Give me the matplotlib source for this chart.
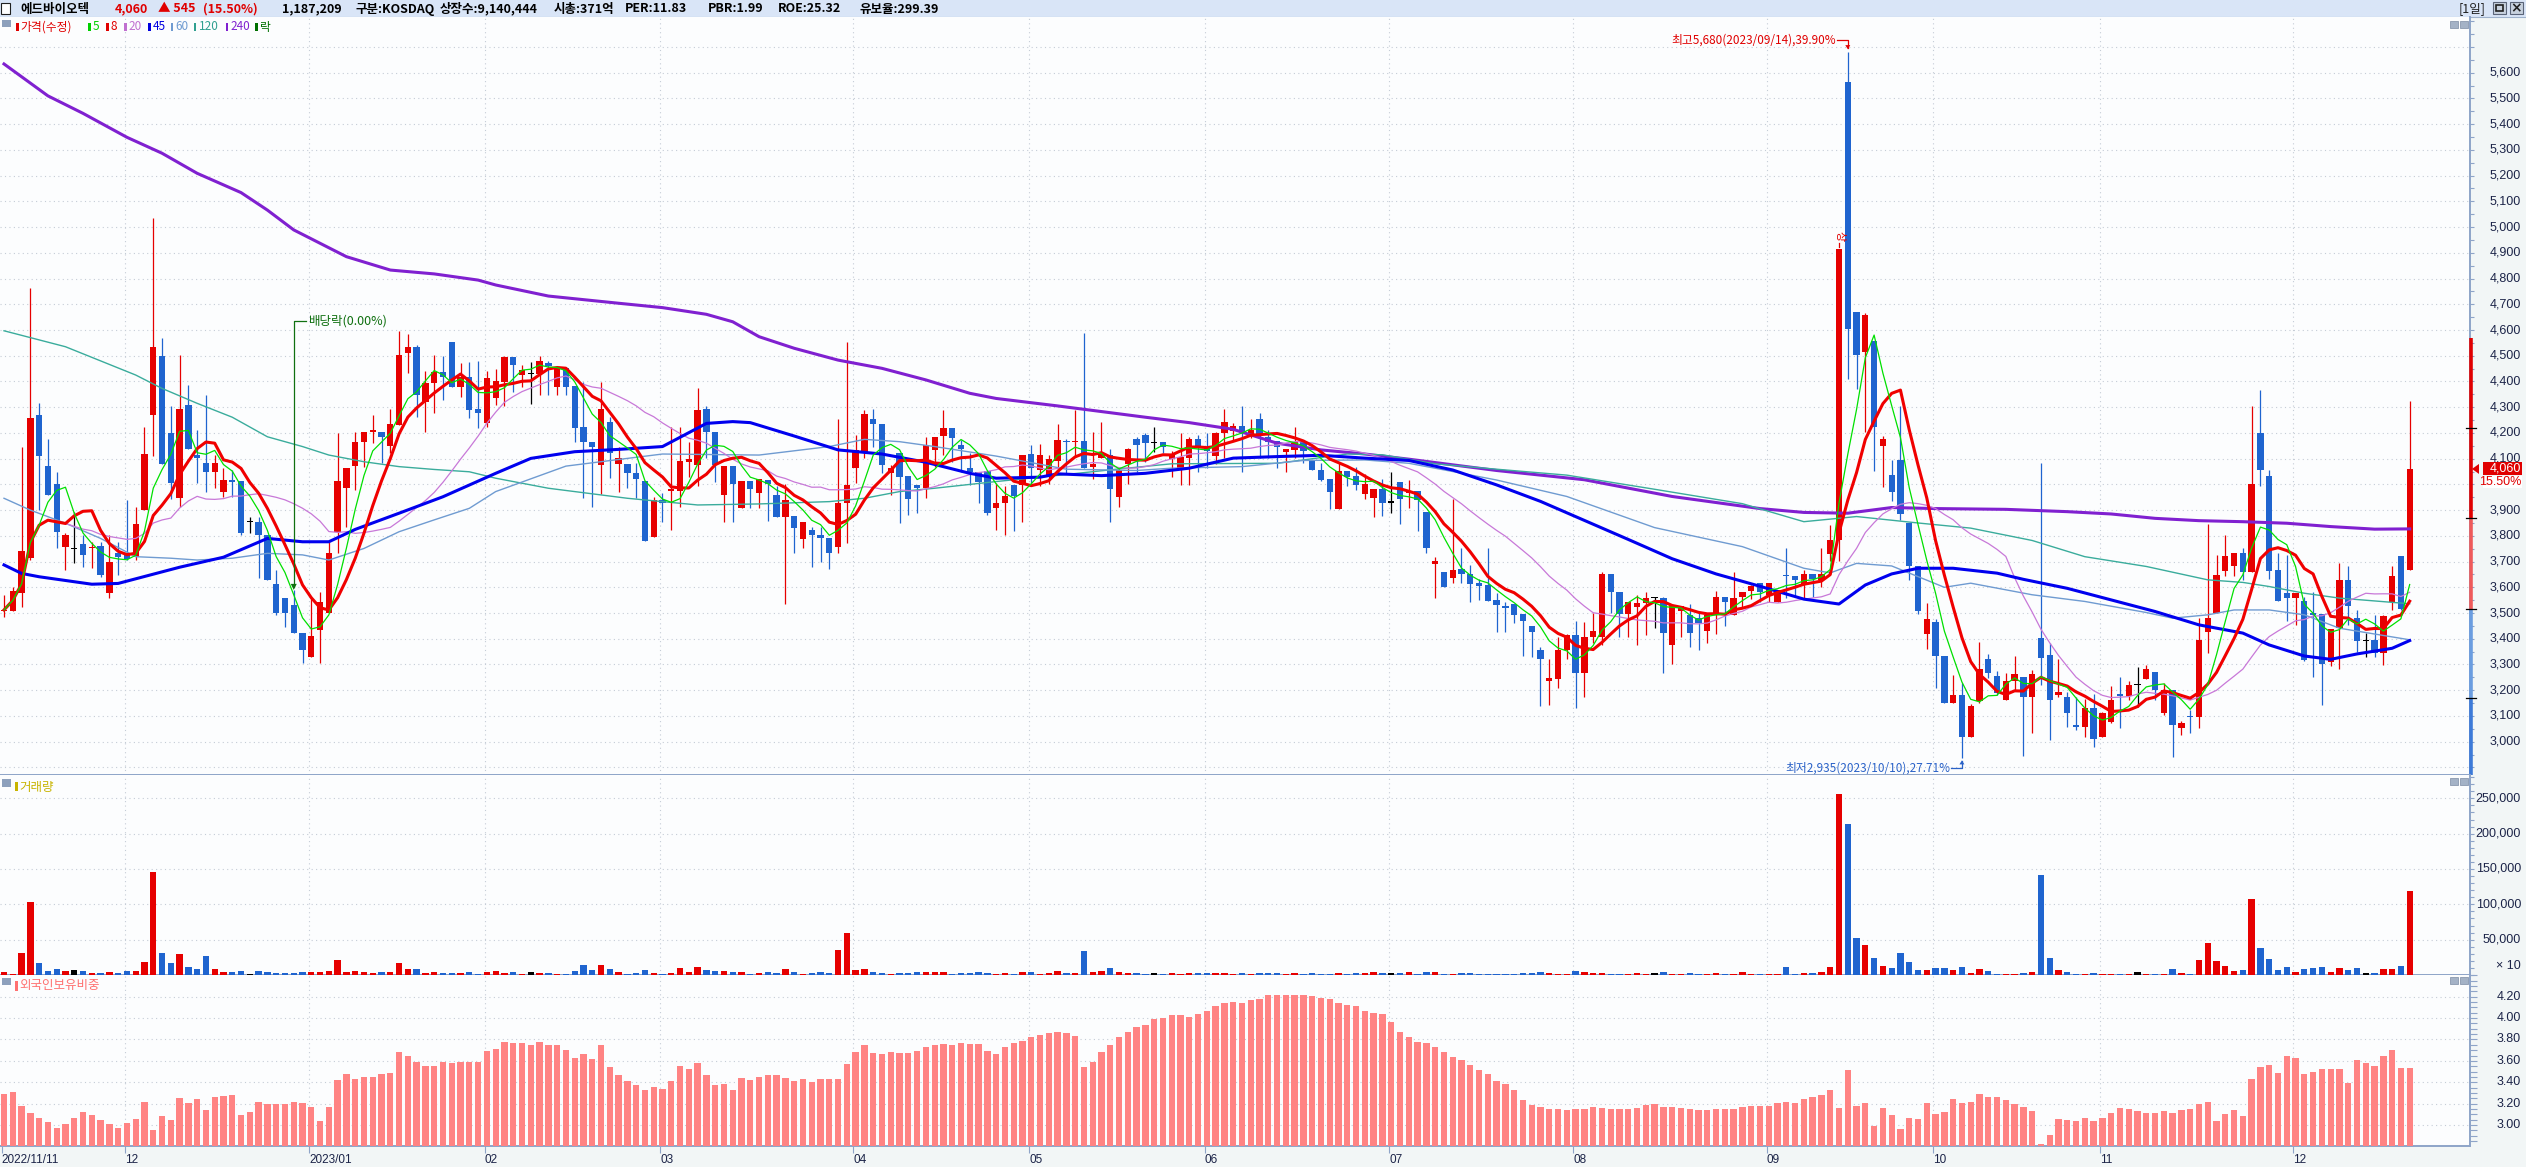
"""
Daily candle chart (에드바이오텍) with moving averages, volume and foreign ownership panels.
"""

import numpy as np
import pandas as pd
import matplotlib
matplotlib.use("Agg")
import matplotlib.pyplot as plt
from matplotlib.patches import Rectangle, Polygon
from matplotlib.lines import Line2D
from matplotlib.transforms import blended_transform_factory

plt.rcParams["font.family"] = ["Noto Sans CJK KR", "DejaVu Sans"]

# ---------------- data ----------------
opens = [
    3508, 3508, 3577, 3713, 4270, 4071, 4002, 3755, 3751, 3768,
    3751, 3761, 3577, 3735, 3732, 3719, 3900, 4270, 4499, 4198,
    3948, 4309, 4114, 4082, 4049, 3972, 4017, 4013, 3855, 3855,
    3803, 3613, 3557, 3531, 3421, 3330, 3434, 3501, 3816, 3985,
    4071, 4163, 4202, 4202, 4150, 4231, 4512, 4533, 4321, 4393,
    4436, 4555, 4380, 4419, 4292, 4240, 4337, 4399, 4496, 4425,
    4432, 4429, 4470, 4377, 4451, 4382, 4222, 4166, 4075, 4244,
    4079, 4079, 4046, 4013, 3797, 3939, 3975, 3976, 4088, 4075,
    4292, 4202, 3959, 4071, 3910, 4013, 3965, 4017, 3959, 3875,
    3877, 3786, 3823, 3802, 3790, 3755, 3929, 4062, 4121, 4253,
    4233, 4043, 4123, 4033, 3998, 3985, 4134, 4188, 4218, 4153,
    4062, 4049, 4052, 3910, 3927, 3998, 3998, 4117, 4054, 4030,
    4089, 4170, 4166, 4169, 4067, 4102, 4113, 3950, 4080, 4177,
    4192, 4164, 4164, 4098, 4063, 4104, 4175, 4143, 4112, 4199,
    4209, 4227, 4196, 4254, 4186, 4169, 4124, 4134, 4169, 4091,
    4056, 4020, 3903, 4052, 4033, 3962, 3949, 3981, 3931, 4011,
    3966, 3976, 3894, 3690, 3661, 3635, 3670, 3651, 3616, 3609,
    3551, 3529, 3535, 3498, 3451, 3355, 3234, 3242, 3355, 3414,
    3266, 3405, 3405, 3650, 3581, 3498, 3522, 3540, 3559, 3557,
    3377, 3507, 3492, 3479, 3429, 3494, 3563, 3494, 3563, 3585,
    3615, 3572, 3544, 3646, 3643, 3609, 3652, 3628, 3730, 3782,
    5563, 4671, 4516, 4556, 4151, 4036, 4096, 3851, 3684, 3420,
    3464, 3334, 3149, 3182, 3019, 3158, 3321, 3257, 3162, 3234,
    3253, 3173, 3402, 3337, 3182, 3175, 3065, 3056, 3130, 3017,
    3078, 3184, 3179, 3221, 3243, 3270, 3111, 3201, 3052, 3100,
    3095, 3428, 3502, 3664, 3684, 3732, 3661, 4199, 4033, 3668,
    3577, 3560, 3545, 3502, 3497, 3311, 3441, 3629, 3480, 3393,
    3396, 3346, 3544, 3722, 3668,
]
highs = [
    3570, 3603, 4147, 4762, 4318, 4175, 4049, 3810, 3894, 3803,
    3777, 3777, 3803, 3777, 3939, 3913, 4222, 5034, 4568, 4305,
    4503, 4386, 4211, 4347, 4114, 4062, 4056, 4013, 3875, 3875,
    3803, 3667, 3557, 3590, 3421, 3557, 3583, 3777, 4198, 4062,
    4205, 4202, 4270, 4202, 4292, 4597, 4584, 4542, 4442, 4503,
    4500, 4555, 4470, 4477, 4481, 4442, 4447, 4499, 4496, 4464,
    4477, 4499, 4480, 4455, 4451, 4382, 4399, 4166, 4399, 4261,
    4147, 4079, 4084, 4013, 3952, 3965, 4222, 4222, 4163, 4373,
    4305, 4202, 4071, 4071, 4013, 4013, 4020, 4017, 3994, 4000,
    3877, 3855, 3836, 3836, 3790, 4253, 4552, 4192, 4289, 4292,
    4233, 4075, 4123, 4033, 3998, 4183, 4183, 4289, 4218, 4173,
    4121, 4049, 4052, 4004, 3992, 3998, 4115, 4153, 4157, 4115,
    4235, 4175, 4290, 4590, 4203, 4242, 4138, 4063, 4141, 4186,
    4199, 4222, 4164, 4131, 4199, 4186, 4192, 4199, 4205, 4293,
    4238, 4305, 4253, 4277, 4212, 4169, 4137, 4222, 4169, 4091,
    4082, 4020, 4082, 4052, 4069, 4039, 3981, 4020, 4050, 4011,
    4017, 3976, 3894, 3717, 3661, 3942, 3752, 3687, 3631, 3752,
    3577, 3544, 3535, 3498, 3451, 3368, 3321, 3405, 3420, 3470,
    3464, 3501, 3659, 3650, 3581, 3544, 3572, 3581, 3563, 3563,
    3535, 3526, 3535, 3501, 3494, 3587, 3563, 3659, 3581, 3609,
    3615, 3618, 3591, 3752, 3643, 3668, 3652, 3752, 3841, 4915,
    5680, 4671, 4668, 4556, 4188, 4096, 4306, 3851, 3684, 3539,
    3476, 3334, 3260, 3228, 3145, 3386, 3340, 3275, 3266, 3333,
    3253, 3279, 4082, 3385, 3320, 3195, 3175, 3165, 3184, 3117,
    3217, 3253, 3237, 3289, 3298, 3270, 3227, 3201, 3082, 3123,
    3480, 3846, 3726, 3804, 3732, 3752, 4305, 4367, 4054, 3735,
    3726, 3577, 3564, 3580, 3497, 3437, 3696, 3683, 3512, 3424,
    3493, 3493, 3681, 3722, 4326,
]
lows = [
    3486, 3508, 3525, 3706, 3900, 3959, 3751, 3667, 3693, 3680,
    3674, 3641, 3557, 3648, 3706, 3706, 3900, 4110, 4079, 3942,
    3913, 4136, 4007, 3972, 3985, 3950, 3952, 3803, 3810, 3635,
    3629, 3492, 3447, 3421, 3305, 3330, 3305, 3501, 3732, 3836,
    3978, 4069, 4160, 4084, 4121, 4231, 4432, 4261, 4205, 4276,
    4328, 4380, 4338, 4257, 4218, 4224, 4309, 4305, 4358, 4380,
    4312, 4347, 4347, 4347, 4347, 4166, 3946, 3913, 3961, 4026,
    3972, 3985, 3946, 3781, 3797, 3855, 3823, 3913, 4030, 3994,
    4101, 4011, 3855, 3852, 3910, 3907, 3907, 3859, 3875, 3535,
    3732, 3751, 3678, 3700, 3670, 3735, 3771, 4007, 4101, 4147,
    4043, 3959, 3851, 3881, 3888, 3946, 4069, 4114, 4088, 4049,
    3998, 3926, 3881, 3823, 3804, 3817, 3852, 4004, 3992, 4002,
    4050, 4043, 4108, 4063, 4020, 4102, 3855, 3911, 4001, 4050,
    4086, 4124, 4121, 4030, 3998, 3998, 4050, 4063, 4080, 4102,
    4173, 4050, 4179, 4102, 4102, 4063, 4050, 4102, 4082, 4054,
    4015, 3905, 3903, 3992, 3979, 3944, 3872, 3879, 3890, 3845,
    3910, 3817, 3732, 3558, 3600, 3618, 3618, 3541, 3549, 3548,
    3428, 3427, 3461, 3334, 3331, 3139, 3141, 3210, 3321, 3130,
    3173, 3383, 3377, 3501, 3405, 3405, 3377, 3414, 3442, 3266,
    3303, 3405, 3368, 3355, 3383, 3418, 3451, 3494, 3525, 3553,
    3544, 3544, 3544, 3557, 3563, 3553, 3563, 3600, 3702, 3702,
    4408, 4371, 4204, 4051, 3990, 3934, 3860, 3628, 3498, 3359,
    3210, 3149, 3149, 2935, 3019, 3149, 3247, 3182, 3162, 3199,
    2945, 3035, 3221, 3007, 3175, 3056, 3046, 3020, 2981, 3017,
    3072, 3052, 3162, 3136, 3243, 3162, 3104, 2940, 3026, 3035,
    3052, 3346, 3502, 3644, 3644, 3629, 3661, 3992, 3631, 3548,
    3469, 3454, 3315, 3250, 3143, 3295, 3282, 3454, 3350, 3331,
    3331, 3298, 3512, 3512, 3668,
]
closes = [
    3512, 3586, 3741, 4257, 4110, 3959, 3816, 3803, 3751, 3726,
    3758, 3648, 3700, 3719, 3710, 3845, 4118, 4535, 4079, 4007,
    4292, 4136, 4101, 4049, 4082, 4017, 4009, 3810, 3855, 3803,
    3629, 3499, 3502, 3421, 3356, 3411, 3544, 3732, 4013, 4062,
    4163, 4202, 4211, 4183, 4235, 4503, 4533, 4347, 4393, 4436,
    4419, 4380, 4419, 4289, 4279, 4412, 4402, 4496, 4464, 4445,
    4432, 4480, 4460, 4455, 4380, 4218, 4166, 4147, 4292, 4123,
    4101, 4046, 4020, 3781, 3939, 3929, 3983, 4091, 4099, 4289,
    4205, 4075, 4071, 4000, 4013, 3981, 4020, 4000, 3875, 3939,
    3832, 3855, 3802, 3790, 3732, 3929, 3998, 4134, 4274, 4233,
    4075, 4062, 4030, 3942, 3985, 4153, 4183, 4218, 4182, 4136,
    4049, 4011, 3888, 3926, 3953, 3955, 4115, 4063, 4115, 4098,
    4173, 4166, 4170, 4063, 4080, 4121, 3981, 4056, 4137, 4153,
    4162, 4164, 4147, 4115, 4106, 4175, 4143, 4131, 4199, 4242,
    4227, 4199, 4212, 4192, 4166, 4147, 4137, 4166, 4131, 4054,
    4017, 3972, 4052, 4030, 3998, 4001, 3981, 3929, 3931, 3942,
    3976, 3940, 3752, 3704, 3600, 3668, 3651, 3612, 3607, 3548,
    3532, 3520, 3494, 3470, 3427, 3321, 3247, 3355, 3414, 3266,
    3405, 3429, 3650, 3581, 3498, 3544, 3540, 3559, 3559, 3423,
    3531, 3526, 3423, 3460, 3494, 3563, 3544, 3559, 3581, 3605,
    3581, 3615, 3591, 3643, 3628, 3652, 3631, 3652, 3782, 4915,
    4603, 4504, 4658, 4222, 4175, 3971, 3884, 3684, 3507, 3476,
    3334, 3149, 3182, 3019, 3140, 3284, 3266, 3191, 3236, 3263,
    3175, 3263, 3324, 3162, 3195, 3111, 3056, 3130, 3010, 3113,
    3162, 3179, 3221, 3221, 3281, 3199, 3201, 3063, 3072, 3095,
    3396, 3480, 3648, 3722, 3732, 3661, 4001, 4054, 3665, 3548,
    3560, 3577, 3318, 3493, 3301, 3437, 3629, 3528, 3393, 3393,
    3346, 3489, 3644, 3515, 4060,
]
# volume in axis units (shares / 10)
volume_x10 = [
    4200, 1400, 31100, 103300, 16500, 5700, 8500, 5700, 7100, 5700,
    2800, 2800, 4200, 2800, 5700, 5700, 18400, 145700, 31100, 17000,
    29700, 11300, 8500, 26900, 8500, 4200, 4200, 5700, 1400, 5700,
    4200, 2800, 2800, 2800, 4200, 4200, 4200, 5700, 21200, 4200,
    5700, 4200, 2800, 4200, 4200, 17000, 8500, 8500, 2800, 4200,
    2800, 2800, 2800, 4200, 1400, 4200, 5700, 2800, 4200, 1400,
    4200, 2800, 2800, 1400, 1400, 5700, 14100, 7100, 14100, 8500,
    4200, 1400, 2800, 7100, 2800, 1400, 2800, 9900, 4200, 11300,
    7100, 5700, 5700, 4200, 4200, 1400, 2800, 4200, 2800, 8500,
    4200, 1400, 2800, 4200, 2800, 35400, 59400, 7100, 8500, 4200,
    2800, 1400, 2800, 2800, 4200, 4200, 4200, 4200, 1400, 2800,
    2800, 4200, 2800, 1400, 2800, 1400, 4200, 4200, 1400, 2800,
    5700, 2800, 2800, 34000, 4200, 5700, 9900, 4200, 2800, 2800,
    1400, 2800, 1400, 2800, 1400, 2800, 2800, 2800, 2800, 2800,
    1400, 2800, 1400, 2800, 2800, 2800, 1400, 2800, 1400, 2800,
    1400, 1400, 2800, 1400, 2800, 2800, 4200, 2800, 2800, 2800,
    4200, 1400, 4200, 4200, 1400, 1400, 2800, 2800, 1400, 1400,
    1400, 1400, 1400, 2800, 2800, 4200, 2800, 1400, 1400, 5700,
    4200, 2800, 2800, 1400, 1400, 1400, 2800, 1400, 2800, 4200,
    1400, 1400, 2800, 1400, 1400, 2800, 1400, 1400, 4200, 1400,
    1400, 1400, 1400, 11300, 1400, 2800, 2800, 4200, 11300, 256100,
    213600, 52300, 42400, 24100, 12700, 9900, 31100, 18400, 7100, 7100,
    9900, 9900, 7100, 11300, 2800, 8500, 5700, 1400, 1400, 1400,
    2800, 4200, 141500, 24100, 7100, 4200, 1400, 1400, 2800, 1400,
    1400, 1400, 1400, 4200, 1400, 1400, 1400, 8500, 2800, 1400,
    21200, 45300, 19800, 12700, 5700, 7100, 107500, 38200, 22600, 7100,
    11300, 4200, 8500, 9900, 11300, 4200, 9900, 7100, 9900, 2800,
    2800, 8500, 8500, 12700, 118800,
]
# foreign ownership ratio (%)
foreign_pct = [
    3.29, 3.31, 3.18, 3.11, 3.07, 3.03, 2.97, 3.01, 3.07, 3.12,
    3.09, 3.05, 3.01, 2.97, 3.02, 3.06, 3.22, 2.95, 3.08, 3.05,
    3.25, 3.21, 3.24, 3.14, 3.26, 3.27, 3.28, 3.09, 3.12, 3.22,
    3.20, 3.20, 3.20, 3.22, 3.21, 3.17, 3.04, 3.17, 3.42, 3.48,
    3.43, 3.45, 3.45, 3.48, 3.49, 3.68, 3.65, 3.59, 3.55, 3.55,
    3.59, 3.58, 3.59, 3.59, 3.59, 3.69, 3.71, 3.78, 3.77, 3.77,
    3.75, 3.78, 3.75, 3.75, 3.70, 3.63, 3.66, 3.62, 3.75, 3.54,
    3.47, 3.41, 3.37, 3.33, 3.36, 3.34, 3.41, 3.55, 3.52, 3.58,
    3.47, 3.37, 3.38, 3.33, 3.44, 3.42, 3.45, 3.47, 3.47, 3.44,
    3.41, 3.43, 3.40, 3.43, 3.43, 3.43, 3.57, 3.68, 3.75, 3.67,
    3.66, 3.68, 3.67, 3.67, 3.69, 3.73, 3.75, 3.76, 3.75, 3.77,
    3.76, 3.76, 3.69, 3.66, 3.73, 3.77, 3.79, 3.82, 3.84, 3.86,
    3.87, 3.86, 3.83, 3.54, 3.59, 3.68, 3.75, 3.82, 3.87, 3.92,
    3.94, 3.99, 4.00, 4.03, 4.03, 4.01, 4.04, 4.07, 4.11, 4.14,
    4.15, 4.14, 4.17, 4.18, 4.22, 4.22, 4.22, 4.22, 4.22, 4.21,
    4.19, 4.18, 4.14, 4.12, 4.11, 4.07, 4.05, 4.04, 3.96, 3.87,
    3.82, 3.78, 3.77, 3.73, 3.68, 3.64, 3.61, 3.56, 3.51, 3.48,
    3.41, 3.38, 3.33, 3.23, 3.19, 3.17, 3.15, 3.15, 3.14, 3.15,
    3.15, 3.17, 3.16, 3.15, 3.15, 3.15, 3.16, 3.19, 3.20, 3.17,
    3.17, 3.16, 3.15, 3.14, 3.14, 3.15, 3.15, 3.15, 3.17, 3.18,
    3.18, 3.18, 3.21, 3.22, 3.21, 3.24, 3.26, 3.28, 3.33, 3.16,
    3.51, 3.18, 3.21, 2.99, 3.16, 3.09, 2.96, 3.07, 3.06, 3.21,
    3.10, 3.12, 3.24, 3.21, 3.22, 3.29, 3.26, 3.26, 3.23, 3.20,
    3.17, 3.13, 2.82, 2.91, 3.06, 3.05, 3.04, 3.07, 3.04, 3.07,
    3.11, 3.16, 3.15, 3.13, 3.11, 3.11, 3.13, 3.11, 3.14, 3.15,
    3.20, 3.22, 3.04, 3.10, 3.14, 3.08, 3.43, 3.54, 3.56, 3.49,
    3.65, 3.63, 3.48, 3.50, 3.52, 3.52, 3.52, 3.39, 3.61, 3.58,
    3.55, 3.65, 3.70, 3.53, 3.53,
]

# long moving averages at sample days
ma45_days = [0, 2, 4, 10, 13, 20, 25, 30, 34, 37, 40, 45, 50, 56, 60, 65, 70, 75, 80, 83,
             85, 90, 95, 100, 105, 110, 113, 118, 120, 125, 130, 135, 140, 145, 150, 155, 160, 165, 170, 175,
             180, 185, 190, 195, 200, 205, 209, 212, 215, 218, 222, 227, 230, 235, 240, 245, 250, 255, 258, 262,
             265, 268, 272, 274]
ma45_vals = [3687, 3654, 3641, 3612, 3615, 3678, 3717, 3790, 3777, 3777, 3825, 3888, 3952, 4043, 4101, 4127, 4136, 4147, 4237, 4244,
             4240, 4188, 4134, 4118, 4086, 4043, 4024, 4028, 4041, 4034, 4043, 4063, 4102, 4108, 4113, 4102, 4093, 4056, 3998, 3934,
             3860, 3786, 3711, 3652, 3604, 3554, 3535, 3609, 3652, 3674, 3674, 3655, 3631, 3596, 3551, 3506, 3454, 3422, 3376, 3333,
             3320, 3341, 3363, 3393]
ma60_days = [0, 3, 7, 11, 15, 19, 22, 26, 30, 34, 37, 41, 45, 49, 53, 56, 64, 71, 75, 86,
             94, 98, 102, 106, 113, 121, 129, 133, 141, 148, 155, 160, 165, 170, 178, 188, 198, 205, 208, 211,
             215, 221, 224, 231, 237, 244, 247, 251, 254, 258, 262, 266, 274]
ma60_vals = [3946, 3900, 3849, 3790, 3719, 3713, 3706, 3713, 3732, 3726, 3706, 3751, 3816, 3862, 3907, 3972, 4071, 4101, 4118, 4114,
             4147, 4175, 4166, 4147, 4110, 4059, 4054, 4063, 4069, 4093, 4095, 4082, 4050, 4017, 3953, 3832, 3758, 3674, 3656, 3693,
             3683, 3600, 3616, 3571, 3545, 3502, 3480, 3493, 3512, 3512, 3493, 3441, 3396]
ma120_days = [0, 7, 15, 18, 22, 26, 30, 34, 37, 41, 45, 49, 53, 56, 62, 71, 79, 86, 94, 98,
              102, 106, 113, 120, 127, 133, 145, 148, 153, 157, 163, 170, 178, 188, 198, 205, 211, 218, 224, 231,
              237, 244, 251, 255, 258, 262, 266, 274]
ma120_vals = [4597, 4535, 4425, 4373, 4315, 4261, 4185, 4147, 4114, 4088, 4069, 4058, 4049, 4024, 3985, 3946, 3920, 3924, 3933, 3946,
              3972, 3985, 4011, 4035, 4060, 4080, 4082, 4095, 4118, 4115, 4080, 4059, 4036, 3981, 3925, 3855, 3875, 3850, 3830, 3782,
              3719, 3681, 3629, 3619, 3603, 3577, 3558, 3536]
ma240_days = [0, 5, 9, 14, 18, 22, 27, 30, 33, 36, 39, 44, 49, 54, 56, 62, 70, 75, 80, 83,
              86, 90, 95, 100, 105, 110, 113, 120, 125, 130, 135, 140, 145, 150, 155, 160, 165, 170, 180, 190,
              200, 205, 210, 215, 220, 228, 235, 240, 245, 250, 255, 260, 265, 270, 274]
ma240_vals = [5634, 5510, 5442, 5349, 5287, 5209, 5134, 5066, 4989, 4937, 4885, 4833, 4818, 4794, 4775, 4732, 4704, 4687, 4661, 4632,
              4574, 4529, 4483, 4451, 4406, 4354, 4334, 4305, 4283, 4261, 4240, 4214, 4160, 4134, 4118, 4098, 4076, 4054, 4018, 3953,
              3906, 3891, 3888, 3910, 3906, 3903, 3894, 3885, 3868, 3859, 3855, 3849, 3836, 3826, 3827]

month_days = [0, 14, 35, 55, 75, 97, 117, 137, 158, 179, 201, 220, 239, 261]
month_labels = ["2022/11/11", "12", "2023/01", "02", "03", "04", "05", "06", "07", "08", "09", "10", "11", "12"]

ex_div_day = 33
limit_up_day = 209
hi_date = "2023/09/14"
lo_date = "2023/10/10"

header_items = [
    ("에드바이오텍", "#000000"), ("4,060", "#e00000"), ("▲ 545", "#e00000"), ("(15.50%)", "#e00000"),
    ("1,187,209", "#000000"), ("구분:KOSDAQ", "#000000"), ("상장수:9,140,444", "#000000"),
    ("시총:371억", "#000000"), ("PER:11.83", "#000000"), ("PBR:1.99", "#000000"),
    ("ROE:25.32", "#000000"), ("유보율:299.39", "#000000"),
]
legend_items = [("가격(수정)", "#e00000"), ("5", "#00d000"), ("8", "#e00000"), ("20", "#c070d0"),
                ("45", "#0000e0"), ("60", "#6f9bd1"), ("120", "#30a090"), ("240", "#8020d0"), ("락", "#007000")]

for arr in (opens, highs, lows, closes, volume_x10, foreign_pct):
    if len(arr) != len(closes):
        raise ValueError(f"length mismatch {len(arr)} vs {len(closes)}")

# ---------------- layout (pixels) ----------------
W, H = 2526, 1167
PW = 2470                    # plot width, right axis column after it
PT, PB = 17, 775             # price panel
VT, VB = 775, 975            # volume panel
FT, FB = 975, 1146           # foreign panel
XMIN, XMAX = -0.456, 280.87
P_TOP, P_BOT = 5816.5, 2870.5
V_MIN, V_MAX = 0, 283000
F_MIN, F_MAX = 2.804, 4.403

RED = "#e60000"
BLUE = "#1f64cf"
BLACK = "#000000"
GRID = "#c5ccd6"
EDGE = "#8ea4c8"
LABEL = "#1c2448"
NUMFONT = ["Liberation Sans", "DejaVu Sans"]

fig = plt.figure(figsize=(W / 100, H / 100), dpi=100)
fig.patch.set_facecolor("#f2f6f6")


def px_axes(x0, y0, x1, y1):
    return fig.add_axes([x0 / W, 1 - y1 / H, (x1 - x0) / W, (y1 - y0) / H])


def ptxt(x, y, s, **kw):
    return fig.text(x / W, 1 - y / H, s, **kw)


def prect(x, y, w, h, **kw):
    r = Rectangle((x / W, 1 - (y + h) / H), w / W, h / H, transform=fig.transFigure, **kw)
    fig.add_artist(r)
    return r


def pline(xs, ys, **kw):
    fig.add_artist(Line2D([x / W for x in xs], [1 - y / H for y in ys], transform=fig.transFigure, **kw))


def xpx(i):
    return (i - XMIN) / (XMAX - XMIN) * PW


def ypx_price(p):
    return PT + (P_TOP - p) / (P_TOP - P_BOT) * (PB - PT)


o = np.array(opens, float)
h = np.array(highs, float)
l = np.array(lows, float)
c = np.array(closes, float)
n = len(c)
idx = np.arange(n)
cols = np.where(c > o, RED, np.where(c < o, BLUE, BLACK))

close_s = pd.Series(c)
ma5 = close_s.rolling(5, min_periods=1).mean()
ma8 = close_s.rolling(8, min_periods=1).mean()
ma20 = close_s.rolling(20, min_periods=1).mean()
last = c[-1]
yt = ypx_price(last)         # last price tag position


def style_panel(ax, ymin, ymax):
    ax.set_facecolor("#fcfdfe")
    ax.set_xlim(XMIN, XMAX)
    ax.set_ylim(ymin, ymax)
    for s in ("top", "left"):
        ax.spines[s].set_visible(False)
    for s in ("right", "bottom"):
        ax.spines[s].set_color(EDGE)
        ax.spines[s].set_linewidth(1.4)
    ax.tick_params(left=False, labelleft=False, bottom=False, labelbottom=False,
                   right=True, labelright=False, direction="out", length=3, color=EDGE, width=0.8)
    for d in month_days[1:]:
        ax.axvline(d - 0.25, color=GRID, lw=0.8, ls=(0, (1, 3)), zorder=0)


def right_label(ax, y, s, color=LABEL, size=9):
    tr = blended_transform_factory(ax.transAxes, ax.transData)
    ax.text(2521 / PW, y, s, transform=tr, ha="right", va="center", fontsize=size,
            color=color, family=NUMFONT, clip_on=False)


# ---------------- header ----------------
ax_h = px_axes(0, 0, W, PT)
ax_h.set_facecolor("#d9e5f7")
ax_h.set_xticks([])
ax_h.set_yticks([])
for s in ("top", "left", "right"):
    ax_h.spines[s].set_visible(False)
ax_h.spines["bottom"].set_color("#9fb2cc")

prect(1, 3, 9, 11, facecolor="white", edgecolor="#202020", lw=0.8)
header_x = [20, 115, 158, 203, 282, 356, 440, 554, 625, 708, 778, 860]
for (txt, colr), hx in zip(header_items, header_x):
    ptxt(hx, 9, txt, color=colr, fontsize=9, fontweight="bold", va="center", ha="left")
ptxt(2459, 9, "[1일]", color="#202020", fontsize=9, va="center", ha="left")
for bx in (2493, 2510):
    prect(bx, 2, 13, 12, facecolor="#c7d1de", edgecolor="#5a6478", lw=0.8)
prect(2496, 5, 7, 6, facecolor="none", edgecolor="#202020", lw=1.2)
ptxt(2516.5, 8.5, "×", color="#202020", fontsize=10, fontweight="bold", va="center", ha="center",
     family=["DejaVu Sans"])

# ---------------- price panel ----------------
ax = px_axes(0, PT, PW, PB)
style_panel(ax, P_BOT, P_TOP)
ax.set_yticks(np.arange(2900, 5801, 50))
for p in range(2900, 5800, 100):
    ax.axhline(p, color=GRID, lw=0.8, ls=(0, (1, 3)), zorder=0)
for p in range(3000, 5700, 100):
    # the label under the change-rate box is hidden on the original chart
    if abs(ypx_price(p) - (yt + 13)) < 8:
        continue
    right_label(ax, p, f"{p:,}")

# moving averages behind the candles
ax.plot(ma240_days, ma240_vals, color="#8020d0", lw=2.2, zorder=4)
ax.plot(ma120_days, ma120_vals, color="#3aac9c", lw=1.0, zorder=4)
ax.plot(ma60_days, ma60_vals, color="#6f9bd1", lw=1.0, zorder=4)
ax.plot(idx, ma20, color="#c878d8", lw=0.9, zorder=4)

# candles
ax.vlines(idx, l, h, colors=cols, lw=0.9, zorder=2)
body_b = np.minimum(o, c)
body_h = np.abs(c - o)
doji = body_h < 5
body_b = np.where(doji, (o + c) / 2 - 2.5, body_b)
body_h = np.maximum(body_h, 5)
ax.bar(idx, body_h, bottom=body_b, width=0.72, color=cols, lw=0, zorder=3)

ax.plot(ma45_days, ma45_vals, color="#0000ee", lw=2.2, zorder=5)
ax.plot(idx, ma8, color="#f00000", lw=2.2, zorder=5)
ax.plot(idx, ma5, color="#00e000", lw=0.9, zorder=6)

# legend row
prect(2, 20, 9, 7, facecolor="#8da0bc", lw=0)
legend_x = [16, 88, 106, 124, 148, 171, 194, 226, 255]
for (txt, colr), lx in zip(legend_items, legend_x):
    prect(lx, 23, 2.5, 8, facecolor=colr, lw=0)
    ptxt(lx + 4.5, 27, txt, color=colr, fontsize=8.5, va="center", ha="left")
for bx in (2450, 2460):
    prect(bx, 21, 8, 7, facecolor="#a4b2c6", edgecolor="#8a98ae", lw=0.6)

# ex-dividend marker
x_div = xpx(ex_div_day)
y_div = ypx_price(h[ex_div_day])
pline([x_div, x_div, x_div + 12], [y_div - 3, 321, 321], color="#107010", lw=0.9)
fig.add_artist(Polygon([((x_div - 3) / W, 1 - (y_div - 6) / H), ((x_div + 3) / W, 1 - (y_div - 6) / H),
                        (x_div / W, 1 - y_div / H)], closed=True, transform=fig.transFigure,
                       facecolor="#107010", lw=0))
ptxt(x_div + 15, 321, "배당락(0.00%)", color="#107010", fontsize=9, va="center", ha="left")

# highest / lowest labels
i_hi = int(np.argmax(h))
i_lo = int(np.argmin(l))
xh, yh = xpx(i_hi), ypx_price(h[i_hi])
ptxt(xh - 12, yh - 12, f"최고{h[i_hi]:,.0f}({hi_date}),{(h[i_hi] - last) / last * 100:.2f}%",
     color="#e00000", fontsize=8.5, va="center", ha="right")
pline([xh - 11, xh, xh], [yh - 12, yh - 12, yh - 4], color="#e00000", lw=0.9)
fig.add_artist(Polygon([((xh - 2.5) / W, 1 - (yh - 7) / H), ((xh + 2.5) / W, 1 - (yh - 7) / H),
                        (xh / W, 1 - (yh - 3) / H)], transform=fig.transFigure, facecolor="#e00000", lw=0))
xl, yl = xpx(i_lo), ypx_price(l[i_lo])
ptxt(xl - 12, yl + 10, f"최저{l[i_lo]:,.0f}({lo_date}),{(last - l[i_lo]) / last * 100:.2f}%",
     color="#2a62c8", fontsize=8.5, va="center", ha="right")
pline([xl - 11, xl, xl], [yl + 10, yl + 10, yl + 3], color="#2a62c8", lw=0.9)
fig.add_artist(Polygon([((xl - 2.5) / W, 1 - (yl + 6) / H), ((xl + 2.5) / W, 1 - (yl + 6) / H),
                        (xl / W, 1 - (yl + 2) / H)], transform=fig.transFigure, facecolor="#2a62c8", lw=0))

# upper-limit mark
xu, yu = xpx(limit_up_day), ypx_price(h[limit_up_day])
ptxt(xu, yu - 13, "상", color="#e00000", fontsize=8, rotation=270, va="center", ha="center")
pline([xu, xu], [yu - 6, yu - 2], color="#e00000", lw=0.9)

# axis colour bar on the price scale
tr = blended_transform_factory(ax.transAxes, ax.transData)
for top, bot, colr in ((4570, 3870, "#e00000"), (3870, 3515, "#ee5a5a"),
                       (3515, 3170, "#6a9de0"), (3170, P_BOT, "#3c7ad8")):
    ax.plot([1.0005, 1.0005], [top, bot], color=colr, lw=2.6, transform=tr, clip_on=False, zorder=6,
            solid_capstyle="butt")
for p in (4220, 3870, 3515, 3170):
    ax.plot([0.9985, 1.0025], [p, p], color="#000000", lw=0.9, transform=tr, clip_on=False, zorder=7)

# last price tag
fig.add_artist(Polygon([(2472 / W, 1 - yt / H), (2479 / W, 1 - (yt - 5) / H), (2479 / W, 1 - (yt + 5) / H)],
                       transform=fig.transFigure, facecolor="#e00000", lw=0, zorder=10))
prect(2483, yt - 6.5, 39, 13, facecolor="#e00000", lw=0, zorder=10)
ptxt(2521, yt, f"{last:,.0f}", color="white", fontsize=9, va="center", ha="right", family=NUMFONT, zorder=11)
prect(2483, yt + 7, 39, 12, facecolor="white", lw=0, zorder=10)
ptxt(2521, yt + 13, f"{(last - c[-2]) / c[-2] * 100:.2f}%", color="#e00000", fontsize=9,
     va="center", ha="right", family=NUMFONT, zorder=11)

# ---------------- volume panel ----------------
ax_v = px_axes(0, VT, PW, VB)
style_panel(ax_v, V_MIN, V_MAX)
ax_v.set_yticks(np.arange(0, 280001, 10000))
for v in range(50000, 250001, 50000):
    ax_v.axhline(v, color=GRID, lw=0.8, ls=(0, (1, 3)), zorder=0)
    right_label(ax_v, v, f"{v:,}")
right_label(ax_v, 12500, "× 10")
ax_v.bar(idx, volume_x10, width=0.72, color=cols, lw=0, zorder=3)
prect(2, 779, 9, 8, facecolor="#8da0bc", lw=0)
prect(15, 782, 2.5, 9, facecolor="#c8b400", lw=0)
ptxt(19, 787, "거래량", color="#c8b400", fontsize=9, va="center", ha="left")
for bx in (2450, 2460):
    prect(bx, 778, 8, 7, facecolor="#a4b2c6", edgecolor="#8a98ae", lw=0.6)

# ---------------- foreign ownership panel ----------------
ax_f = px_axes(0, FT, PW, FB)
style_panel(ax_f, F_MIN, F_MAX)
ax_f.set_yticks(np.arange(2.85, 4.41, 0.05))
for v in np.arange(3.0, 4.21, 0.2):
    ax_f.axhline(v, color=GRID, lw=0.8, ls=(0, (1, 3)), zorder=0)
    right_label(ax_f, v, f"{v:.2f}")
fo = np.array(foreign_pct)
ax_f.bar(idx, fo - F_MIN, bottom=F_MIN, width=0.72, color="#ff8383", lw=0, zorder=3)
prect(2, 978, 9, 7, facecolor="#8da0bc", lw=0)
prect(15, 981, 2.5, 10, facecolor="#ff7070", lw=0)
ptxt(19, 986, "외국인보유비중", color="#ff7070", fontsize=9, va="center", ha="left")
for bx in (2450, 2460):
    prect(bx, 977, 8, 7, facecolor="#a4b2c6", edgecolor="#8a98ae", lw=0.6)

ax_f.tick_params(bottom=True, labelbottom=True, direction="out", length=5, color=EDGE)
ax_f.set_xticks([d - 0.25 for d in month_days], month_labels, ha="left", fontsize=8.5,
                color=LABEL, family=NUMFONT)
ax_f.tick_params(axis="x", pad=1)

fig.savefig("out.png", dpi=100, facecolor=fig.get_facecolor())
